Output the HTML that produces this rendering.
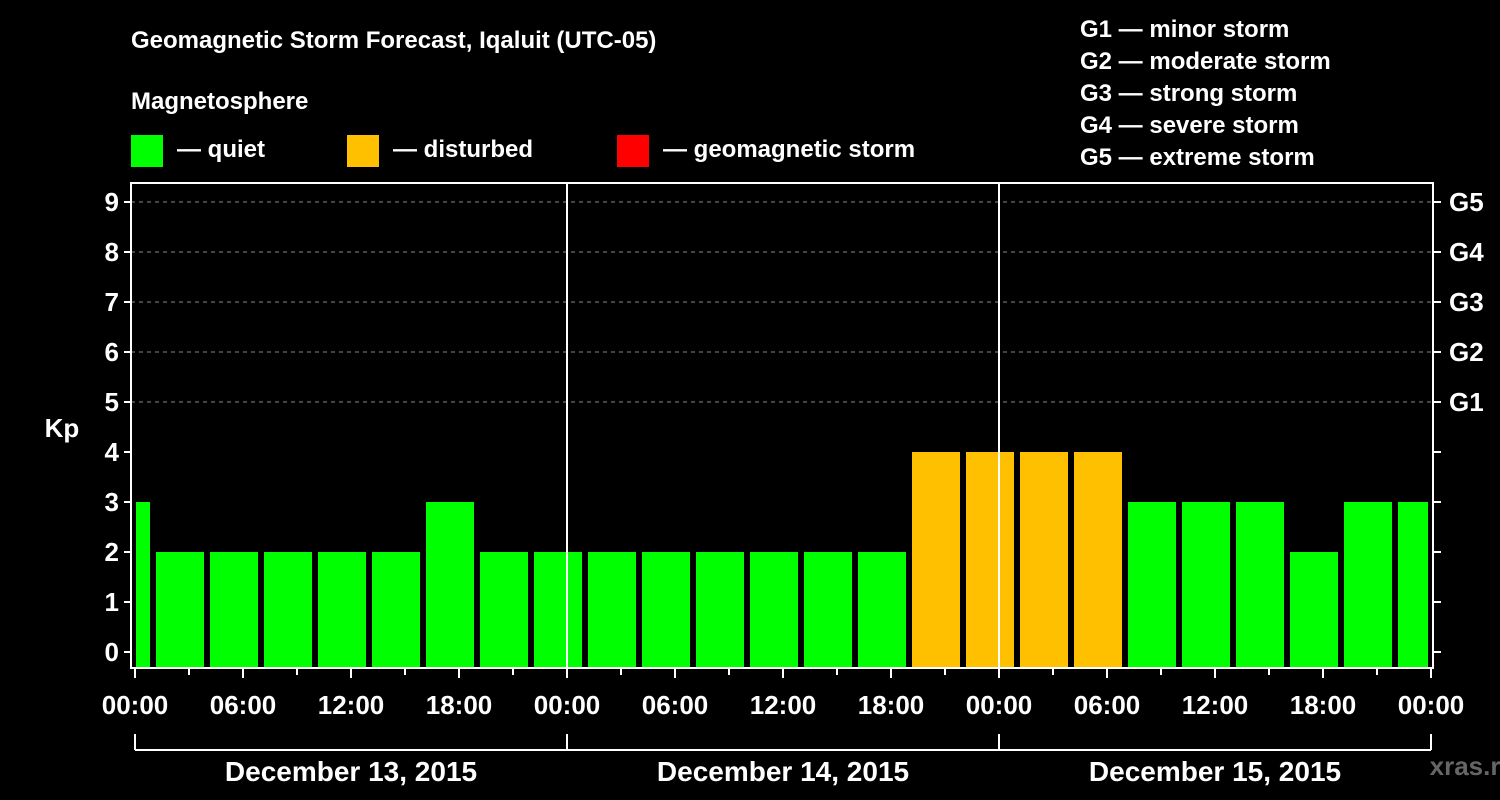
<!DOCTYPE html>
<html><head><meta charset="utf-8"><style>
html,body{margin:0;padding:0;background:#000;}
svg{display:block;font-family:"Liberation Sans",Arial,sans-serif;font-weight:bold;}
</style></head><body>
<svg id="chart" width="1500" height="800" viewBox="0 0 1500 800">
<rect x="0" y="0" width="1500" height="800" fill="#000"/>
<text x="131" y="48" fill="#fff" font-size="24">Geomagnetic Storm Forecast, Iqaluit (UTC-05)</text>
<text x="131" y="109" fill="#fff" font-size="24">Magnetosphere</text>
<g><rect x="131" y="135" width="32" height="32" fill="#00ff00"/><text x="177" y="157" fill="#fff" font-size="24">— quiet</text></g>
<g><rect x="347" y="135" width="32" height="32" fill="#ffc000"/><text x="393" y="157" fill="#fff" font-size="24">— disturbed</text></g>
<g><rect x="617" y="135" width="32" height="32" fill="#ff0000"/><text x="663" y="157" fill="#fff" font-size="24">— geomagnetic storm</text></g>
<g fill="#fff" font-size="24">
<text x="1080" y="37">G1 — minor storm</text>
<text x="1080" y="69">G2 — moderate storm</text>
<text x="1080" y="101">G3 — strong storm</text>
<text x="1080" y="133">G4 — severe storm</text>
<text x="1080" y="165">G5 — extreme storm</text>
</g>
<text x="62" y="437" fill="#fff" font-size="26" text-anchor="middle">Kp</text>
<text x="1473" y="775" fill="#666" font-size="26" text-anchor="middle">xras.ru</text>
<g id="plot"></g>
</svg>
<script>
const kpValues=[3,2,2,2,2,2,3,2,2,2,2,2,2,2,2,4,4,4,4,3,3,3,2,3,3,3];
const yTicks=[0,1,2,3,4,5,6,7,8,9];
const gLabels=["G1","G2","G3","G4","G5"];
const xTickLabels=["00:00","06:00","12:00","18:00","00:00","06:00","12:00","18:00","00:00","06:00","12:00","18:00","00:00"];
const dayLabels=["December 13, 2015","December 14, 2015","December 15, 2015"];
const firstBarStartHour=-2;
const NS="http://www.w3.org/2000/svg";
const X0=135,PXH=18,HOURS=72,Y0=652,PXK=50,L=131,R=1433,T=183,B=668;
const xs=h=>X0+h*PXH, ys=k=>Y0-k*PXK;
const plot=document.getElementById('plot');
function mk(tag,attrs,parent){const e=document.createElementNS(NS,tag);for(const k in attrs)e.setAttribute(k,attrs[k]);(parent||plot).appendChild(e);return e;}
// gridlines
for(let k=5;k<=9;k++){const l=mk('line',{x1:L,x2:R,y1:ys(k),y2:ys(k),stroke:'#888','stroke-dasharray':'4,4','stroke-width':1});

}
// bars
kpValues.forEach((v,i)=>{
 const h0=firstBarStartHour+i*3;
 let x1=xs(h0)+3,x2=xs(h0+3)-3;
 x1=Math.max(x1,X0+1);x2=Math.min(x2,xs(HOURS)-3);
 const c=v>=5?'#ff0000':(v>=4?'#ffc000':'#00ff00');
 const r=mk('rect',{x:x1,y:ys(v),width:x2-x1,height:B-ys(v),fill:c});
 
 
});
// day separators
[24,48].forEach(h=>{const l=mk('line',{x1:xs(h),x2:xs(h),y1:T,y2:B,stroke:'#fff','stroke-width':2});

});
// frame
const f=mk('rect',{x:L,y:T,width:R-L,height:B-T,fill:'none',stroke:'#fff','stroke-width':2});


// y ticks
yTicks.forEach(k=>{
 mk('line',{x1:L-7,x2:L,y1:ys(k),y2:ys(k),stroke:'#fff','stroke-width':2});
 mk('line',{x1:R,x2:R+8,y1:ys(k),y2:ys(k),stroke:'#fff','stroke-width':2});
 const t=mk('text',{x:L-12,y:ys(k)+9,fill:'#fff','font-size':26,'text-anchor':'end'});t.textContent=k;
 
 
});
gLabels.forEach((g,i)=>{const t=mk('text',{x:R+16,y:ys(5+i)+9,fill:'#fff','font-size':26});t.textContent=g;
 
 });
// x ticks
for(let h=0;h<=HOURS;h+=3){const major=h%6===0;mk('line',{x1:xs(h),x2:xs(h),y1:B,y2:B+(major?10:7),stroke:'#fff','stroke-width':2});}
xTickLabels.forEach((s,i)=>{const t=mk('text',{x:xs(i*6),y:714,fill:'#fff','font-size':26,'text-anchor':'middle'});t.textContent=s;
 
 });
// date bracket
mk('line',{x1:xs(0),x2:xs(HOURS),y1:750,y2:750,stroke:'#fff','stroke-width':2});
for(let d=0;d<=3;d++)mk('line',{x1:xs(d*24),x2:xs(d*24),y1:734,y2:750,stroke:'#fff','stroke-width':2});
dayLabels.forEach((s,i)=>{const t=mk('text',{x:xs(i*24+12),y:781,fill:'#fff','font-size':28,'text-anchor':'middle'});t.textContent=s;
 
 });
</script>
</body></html>
